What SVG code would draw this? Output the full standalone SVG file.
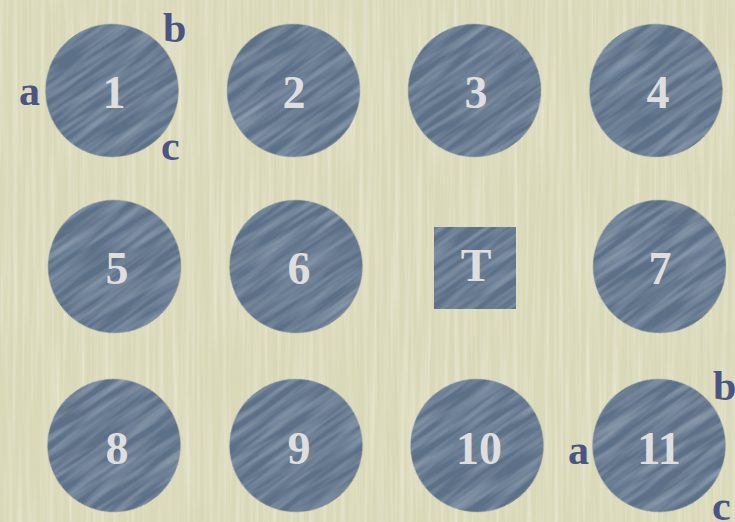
<svg xmlns="http://www.w3.org/2000/svg" width="735" height="522" viewBox="0 0 735 522">
<defs>
<style>
.node{fill:#5b6f87;}
.num{font-family:"Liberation Serif","Times New Roman",serif;font-weight:bold;font-size:46px;fill:#dedede;text-anchor:middle;}
.lbl{font-family:"Liberation Serif","Times New Roman",serif;font-weight:bold;font-size:42px;fill:#4a5584;}
</style>
<filter id="bgtex" x="0" y="0" width="100%" height="100%">
<feTurbulence type="fractalNoise" baseFrequency="0.22 0.006" numOctaves="3" seed="4"/>
<feColorMatrix type="matrix" values="0 0 0 0 1  0 0 0 0 1  0 0 0 0 0.95  1.3 0 0 0 -0.5"/>
</filter>
<filter id="tex" x="-10%" y="-10%" width="120%" height="120%">
<feTurbulence type="fractalNoise" baseFrequency="0.015 0.16" numOctaves="2" seed="7" result="n"/>
<feColorMatrix in="n" type="matrix" values="0 0 0 0 0.5  0 0 0 0 0.6  0 0 0 0 0.7  0.7 0 0 0 -0.24" result="s"/>
<feComposite in="s" in2="SourceGraphic" operator="in" result="c"/>
<feMerge><feMergeNode in="SourceGraphic"/><feMergeNode in="c"/></feMerge>
</filter>
<clipPath id="clipT"><rect x="434" y="227" width="82" height="82"/></clipPath>
</defs>
<rect width="735" height="522" fill="#d9d8b8"/>
<rect width="735" height="522" filter="url(#bgtex)" opacity="0.55"/>
<g id="connectors"></g>
<g id="n1"><g transform="rotate(-35 112 90.5)"><circle class="node" cx="112" cy="90.5" r="66.5" filter="url(#tex)"/></g><text class="num" x="114" y="108">1</text></g>
<g id="n2"><g transform="rotate(-35 293.5 90.5)"><circle class="node" cx="293.5" cy="90.5" r="66.5" filter="url(#tex)"/></g><text class="num" x="294" y="108">2</text></g>
<g id="n3"><g transform="rotate(-35 474.5 90.5)"><circle class="node" cx="474.5" cy="90.5" r="66.5" filter="url(#tex)"/></g><text class="num" x="476" y="108">3</text></g>
<g id="n4"><g transform="rotate(-35 656 90.5)"><circle class="node" cx="656" cy="90.5" r="66.5" filter="url(#tex)"/></g><text class="num" x="658" y="108">4</text></g>
<g id="n5"><g transform="rotate(-35 114.5 266.5)"><circle class="node" cx="114.5" cy="266.5" r="66.5" filter="url(#tex)"/></g><text class="num" x="117" y="284">5</text></g>
<g id="n6"><g transform="rotate(-35 296 266.5)"><circle class="node" cx="296" cy="266.5" r="66.5" filter="url(#tex)"/></g><text class="num" x="299" y="284">6</text></g>
<g id="nT"><g clip-path="url(#clipT)"><g transform="rotate(-35 475 268)"><circle class="node" cx="475" cy="268" r="62" filter="url(#tex)"/></g></g><text class="num" x="476" y="281">T</text></g>
<g id="n7"><g transform="rotate(-35 659.5 266.5)"><circle class="node" cx="659.5" cy="266.5" r="66.5" filter="url(#tex)"/></g><text class="num" x="660" y="284">7</text></g>
<g id="n8"><g transform="rotate(-35 114 445.5)"><circle class="node" cx="114" cy="445.5" r="66.5" filter="url(#tex)"/></g><text class="num" x="117" y="464">8</text></g>
<g id="n9"><g transform="rotate(-35 296 445.5)"><circle class="node" cx="296" cy="445.5" r="66.5" filter="url(#tex)"/></g><text class="num" x="299" y="464">9</text></g>
<g id="n10"><g transform="rotate(-35 477 445.5)"><circle class="node" cx="477" cy="445.5" r="66.5" filter="url(#tex)"/></g><text class="num" x="479" y="464">10</text></g>
<g id="n11"><g transform="rotate(-35 659 445.5)"><circle class="node" cx="659" cy="445.5" r="66.5" filter="url(#tex)"/></g><text class="num" x="659" y="464">11</text></g>
<g id="labels">
<text class="lbl" x="19" y="105">a</text>
<text class="lbl" x="163" y="42">b</text>
<text class="lbl" x="161" y="160">c</text>
<text class="lbl" x="568" y="464">a</text>
<text class="lbl" x="713" y="400">b</text>
<text class="lbl" x="712" y="520">c</text>
</g>
</svg>
